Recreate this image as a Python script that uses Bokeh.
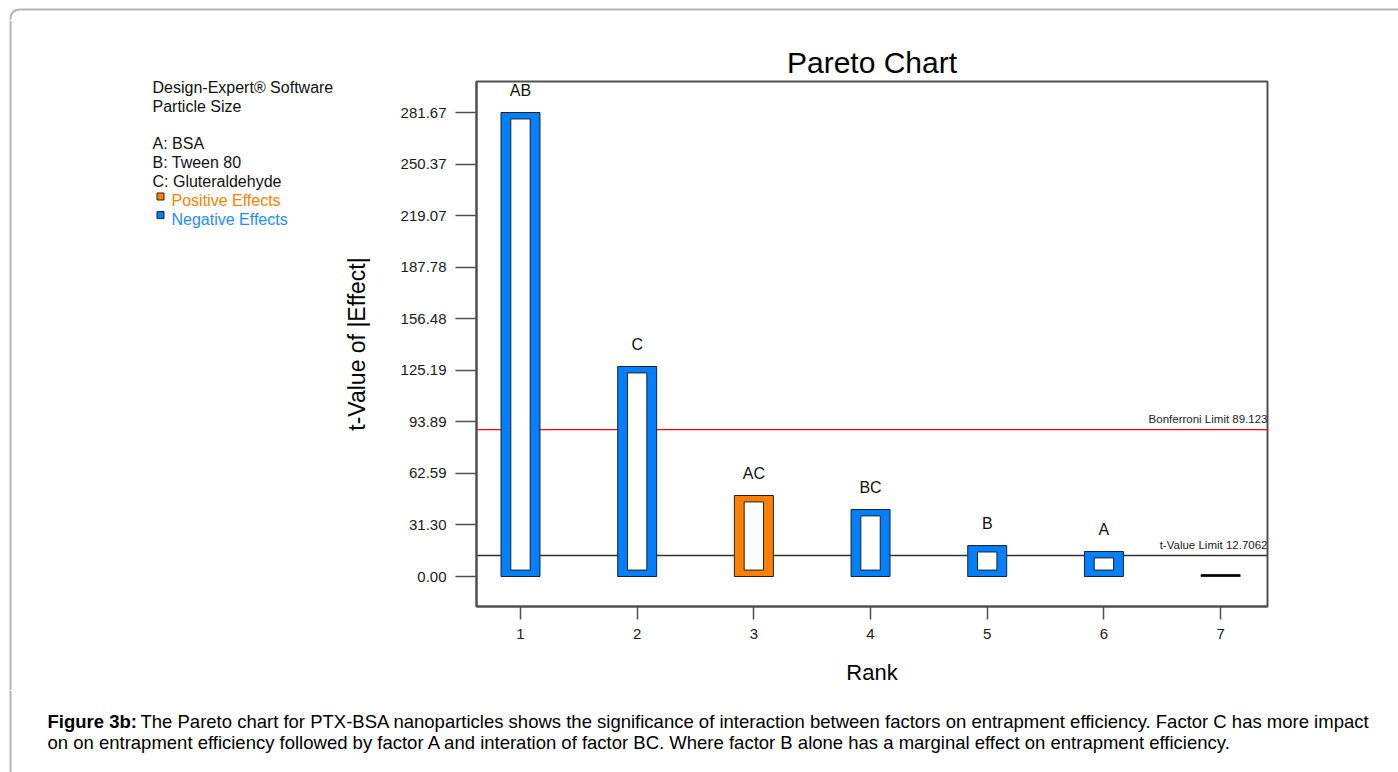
from bokeh.plotting import figure
from bokeh.layouts import column, row
from bokeh.models import Range1d, FixedTicker, NumeralTickFormatter, Span, Label
from bokeh.core.properties import value
from bokeh.embed import file_html
from bokeh.resources import INLINE

# ---- data -------------------------------------------------------------
ranks = [1, 2, 3, 4, 5, 6, 7]
effect_terms = ["AB", "C", "AC", "BC", "B", "A", ""]
t_values = [281.67, 127.5, 49.2, 40.7, 18.8, 15.2, 1.2]
effect_signs = ["negative", "negative", "positive", "negative", "negative", "negative", "none"]

y_tick_values = [0.00, 31.30, 62.59, 93.89, 125.19, 156.48, 187.78, 219.07, 250.37, 281.67]
x_tick_values = [1, 2, 3, 4, 5, 6, 7]

bonferroni_limit = 89.123
t_value_limit = 12.7062

legend_header = ["Design-Expert\u00ae Software", "Particle Size"]
factor_names = ["A: BSA", "B: Tween 80", "C: Gluteraldehyde"]
effect_legend = ["Positive Effects", "Negative Effects"]

caption_lead = "Figure 3b:"
caption_lines = [
    "The Pareto chart for PTX-BSA nanoparticles shows the significance of interaction between factors on entrapment efficiency. Factor C has more impact",
    "on on entrapment efficiency followed by factor A and interation of factor BC. Where factor B alone has a marginal effect on entrapment efficiency.",
]

# ---- styling ----------------------------------------------------------
POS = "#FF8000"
NEG = "#0080FF"
FONT = "Liberation Sans"
FRAME = "#505050"
BORDER = "#b4b4b4"
sign_color = {"positive": POS, "negative": NEG, "none": "black"}
bar_colors = [sign_color[s] for s in effect_signs]

W, H = 1398, 772
STRIP_H = 20          # top strip holding the page border
SIDE_W = 340          # legend column width
CAP_H = 82            # caption strip height
MID_H = H - STRIP_H - CAP_H
FL, FR, FT, FB = 475, 1267, 81, 606   # plot frame edges on the page


def canvas_fig(w, h):
    """Blank figure whose data space is its own pixel grid (y downwards)."""
    f = figure(width=w, height=h, output_backend="svg", toolbar_location=None,
               x_range=Range1d(0, w), y_range=Range1d(h, 0),
               x_axis_location=None, y_axis_location=None,
               min_border=0, outline_line_color=None)
    f.grid.visible = False
    f.background_fill_color = "white"
    f.border_fill_color = "white"
    return f


# ---- top strip: page border -----------------------------------------
top = canvas_fig(W, STRIP_H)
top.line([20, W], [9, 9], line_color=BORDER, line_width=2)
top.quadratic(x0=[10], y0=[19], x1=[20], y1=[9], cx=[10], cy=[9],
              line_color=BORDER, line_width=2)
top.line([10, 10], [19, STRIP_H], line_color=BORDER, line_width=2)

# ---- legend column --------------------------------------------------
side = canvas_fig(SIDE_W, MID_H)
side.line([10, 10], [0, MID_H], line_color=BORDER, line_width=2)
oy = STRIP_H
hdr_y = [87.3 - oy, 106.0 - oy]
fac_y = [143.3 - oy + 18.9 * i for i in range(len(factor_names))]
eff_y = [200.0 - oy, 218.6 - oy]
side.text(x=[152] * 5, y=hdr_y + fac_y, text=legend_header + factor_names,
          text_baseline="alphabetic", text_font=value(FONT), text_font_size="16px",
          text_color="#111111")
side.text(x=[171, 171], y=eff_y, text=effect_legend, text_baseline="alphabetic",
          text_font=value(FONT), text_font_size="16px", text_color=[POS, "#1E8CFF"])
side.rect(x=[160, 160], y=[y - 4.0 for y in eff_y], width=7, height=7,
          fill_color=[POS, NEG], line_color="#202020", line_width=1)

# ---- Pareto chart -----------------------------------------------------
p = figure(width=W - SIDE_W, height=MID_H, output_backend="svg", toolbar_location=None,
           x_range=Range1d(0.623, 7.402), y_range=Range1d(-18.2, 300.5),
           min_border_left=FL - SIDE_W, min_border_right=W - FR,
           min_border_top=FT - STRIP_H, min_border_bottom=STRIP_H + MID_H - FB)
p.grid.visible = False
p.background_fill_color = "white"
p.border_fill_color = "white"
p.outline_line_color = FRAME
p.outline_line_width = 2

p.title.text = "Pareto Chart"
p.title.align = "center"
p.title.text_font = FONT
p.title.text_font_size = "30px"
p.title.text_font_style = "normal"
p.title.text_color = "black"
p.title.standoff = 5

for ax in (p.xaxis[0], p.yaxis[0]):
    ax.axis_line_color = FRAME
    ax.axis_line_width = 2
    ax.major_tick_line_color = FRAME
    ax.major_tick_line_width = 1.5
    ax.major_tick_in = 0
    ax.minor_tick_line_color = None
    ax.major_label_text_font = FONT
    ax.major_label_text_font_size = "15px"
    ax.major_label_text_color = "#1a1a1a"
    ax.axis_label_text_font = FONT
    ax.axis_label_text_font_style = "normal"
    ax.axis_label_text_color = "black"

p.xaxis.ticker = FixedTicker(ticks=x_tick_values)
p.xaxis.major_tick_out = 13
p.xaxis.major_label_standoff = 9
p.xaxis.axis_label = "Rank"
p.xaxis.axis_label_text_font_size = "22px"
p.xaxis.axis_label_standoff = 18

p.yaxis.ticker = FixedTicker(ticks=y_tick_values)
p.yaxis.formatter = NumeralTickFormatter(format="0.00")
p.yaxis.major_tick_out = 21
p.yaxis.major_label_standoff = 9
p.yaxis.axis_label = "t-Value of |Effect|"
p.yaxis.axis_label_text_font_size = "23px"
p.yaxis.axis_label_standoff = 28

# limit lines, drawn beneath the bars
p.add_layout(Span(location=bonferroni_limit, dimension="width", line_color="#FF0000",
                  line_width=1.2, level="underlay"))
p.add_layout(Span(location=t_value_limit, dimension="width", line_color="#303030",
                  line_width=1.5, level="underlay"))
for lim, txt in ((bonferroni_limit, "Bonferroni Limit"), (t_value_limit, "t-Value Limit")):
    p.add_layout(Label(x=FR - FL - 1, x_units="screen", y=lim, y_units="data",
                       text=f"{txt} {lim}", text_align="right", text_baseline="bottom",
                       y_offset=5, text_font=FONT, text_font_size="11.5px",
                       text_color="#222222"))

# bars: coloured outer box with a white inner box
half_outer, half_inner, inset = 0.167, 0.083, 3.9
p.quad(left=[r - half_outer for r in ranks], right=[r + half_outer for r in ranks],
       bottom=0, top=t_values, fill_color=bar_colors, line_color="#202020", line_width=1)
big = [i for i, v in enumerate(t_values) if v > 3 * inset]
p.quad(left=[ranks[i] - half_inner for i in big], right=[ranks[i] + half_inner for i in big],
       bottom=inset, top=[t_values[i] - inset for i in big],
       fill_color="white", line_color="#202020", line_width=1)

p.text(x=ranks, y=t_values, text=effect_terms, y_offset=-22, text_align="center",
       text_baseline="middle", text_font=value(FONT), text_font_size="16px",
       text_color="#111111")

# ---- caption ----------------------------------------------------------
cap = canvas_fig(W, CAP_H)
cap.line([10, 10], [0, CAP_H], line_color=BORDER, line_width=2)
cy0 = STRIP_H + MID_H
cap.text(x=[47], y=[721 - cy0], text=[caption_lead], text_baseline="alphabetic",
         text_font=value(FONT), text_font_style="bold", text_font_size="18.5px",
         text_color="black")
cap.text(x=[140, 47], y=[721 - cy0, 742 - cy0], text=caption_lines,
         text_baseline="alphabetic", text_font=value(FONT), text_font_size="18.5px",
         text_color="black")

page = column(top, row(column(side), p), cap)
open("out.html", "w").write(file_html(page, INLINE))
